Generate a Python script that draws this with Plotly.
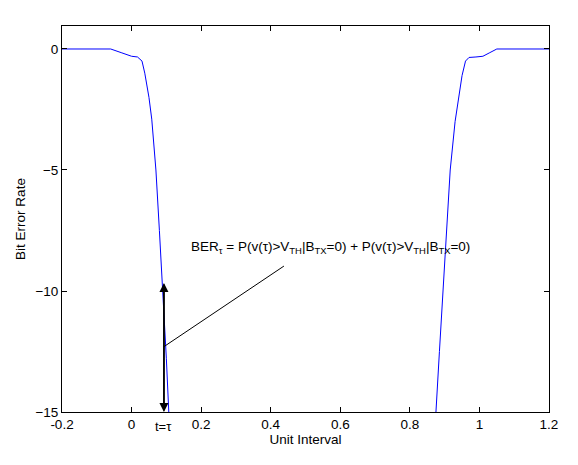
import plotly.graph_objects as go

# BER curve (log10 scale)
x = [-0.2, -0.1, -0.06, -0.03, 0.0, 0.017, 0.03, 0.038, 0.05, 0.058, 0.07, 0.08, 0.09, 0.1, 0.107, 0.11,
     0.87, 0.875, 0.885, 0.895, 0.905, 0.916, 0.93, 0.94, 0.95, 0.96, 0.97, 0.99, 1.01, 1.03, 1.05, 1.2]
y = [0, 0, 0, -0.15, -0.3, -0.33, -0.5, -1.0, -2.0, -2.9, -5.0, -7.5, -10, -12.8, -15, -16,
     -16, -15, -12.5, -10, -7.5, -5, -3, -2, -1.1, -0.5, -0.35, -0.33, -0.3, -0.15, 0, 0]

fig = go.Figure(go.Scatter(x=x, y=y, mode='lines', line=dict(color='#0000ff', width=1), showlegend=False))

for a, b in [(-9.67, -15), (-15, -9.67)]:
    fig.add_annotation(x=0.093, y=a, ax=0.093, ay=b, xref='x', yref='y', axref='x', ayref='y',
                       showarrow=True, arrowhead=2, arrowsize=1.2, arrowwidth=1.5,
                       arrowcolor='black', text='')
fig.add_shape(type='line', x0=0.093, y0=-12.3, x1=0.438, y1=-8.97, line=dict(color='black', width=1))
fig.add_annotation(x=0.165, y=-8.2, xanchor='left', showarrow=False,
                   text='BER<sub>τ</sub> = P(v(τ)>V<sub>TH</sub>|B<sub>TX</sub>=0) + P(v(τ)>V<sub>TH</sub>|B<sub>TX</sub>=0)',
                   font=dict(size=13.5, color='black'))
fig.add_annotation(x=0.093, y=-15, yshift=-14, showarrow=False, text='t=τ', font=dict(size=13, color='black'))

ax = dict(showline=True, mirror='ticks', linecolor='black', ticks='inside', tickcolor='black',
          showgrid=False, zeroline=False, tickfont=dict(size=13.5, color='black'))
fig.update_layout(
    width=578, height=465, plot_bgcolor='white', paper_bgcolor='white',
    font=dict(family='Liberation Sans, Arial', color='black'),
    margin=dict(l=54, r=37, t=18, b=61),
    xaxis=dict(range=[-0.2, 1.2], tickvals=[-0.2, 0, 0.2, 0.4, 0.6, 0.8, 1, 1.2],
               ticktext=['-0.2', '0', '0.2', '0.4', '0.6', '0.8', '1', '1.2'],
               title=dict(text='Unit Interval', font=dict(size=13.5), standoff=2), **ax),
    yaxis=dict(range=[-15, 0.95], tickvals=[0, -5, -10, -15],
               title=dict(text='Bit Error Rate', font=dict(size=13.5), standoff=6), **ax),
)
fig.write_html("out.html")
